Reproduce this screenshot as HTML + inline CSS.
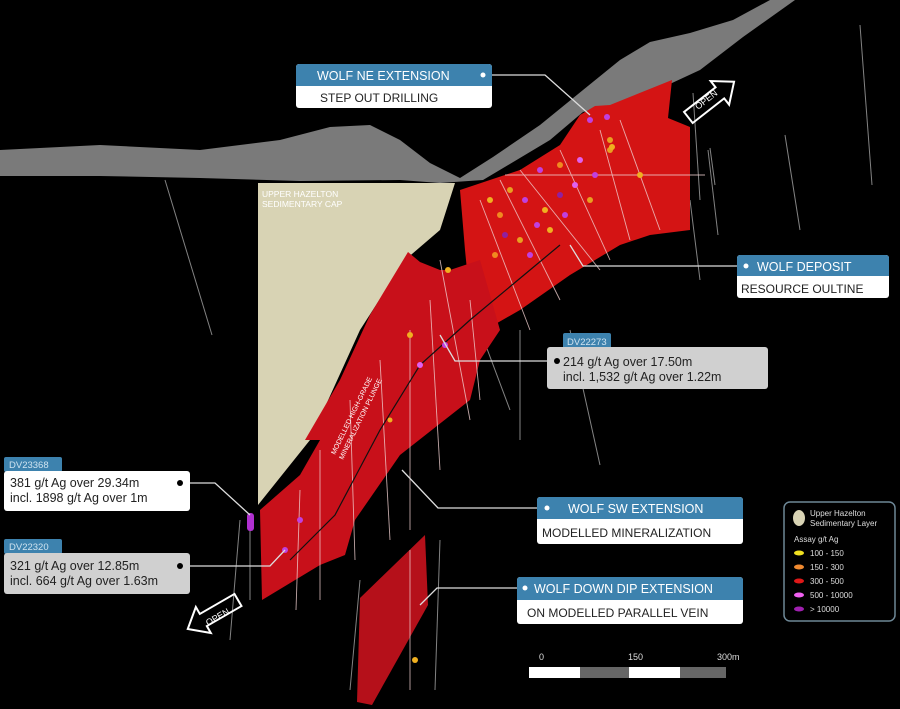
<!DOCTYPE html>
<html><head><meta charset="utf-8"><style>
html,body{margin:0;padding:0;background:#000;}
svg{display:block;font-family:"Liberation Sans",sans-serif;}
</style></head><body>
<svg width="900" height="709" viewBox="0 0 900 709" xmlns="http://www.w3.org/2000/svg">
<rect width="900" height="709" fill="#000"/>
<!-- background drill lines -->
<g stroke="#bbb" stroke-width="1" opacity="0.7">
<line x1="165" y1="180" x2="212" y2="335"/>
<line x1="860" y1="25" x2="872" y2="185"/>
<line x1="785" y1="135" x2="800" y2="230"/>
<line x1="708" y1="150" x2="718" y2="235"/>
<line x1="690" y1="200" x2="700" y2="280"/>
<line x1="693" y1="93" x2="700" y2="200"/>
<line x1="710" y1="148" x2="715" y2="185"/>
<line x1="570" y1="330" x2="600" y2="465"/>
<line x1="520" y1="330" x2="520" y2="440"/>
<line x1="480" y1="330" x2="510" y2="410"/>
<line x1="240" y1="520" x2="230" y2="640"/>
<line x1="250" y1="520" x2="250" y2="600"/>
<line x1="440" y1="540" x2="435" y2="690"/>
<line x1="360" y1="580" x2="350" y2="690"/>
</g>
<!-- terrain -->
<polygon fill="#7a7a7a" points="0,150 100,145 200,150 280,140 330,127 370,125 400,140 430,163 460,178 493,157 540,125 583,90 620,60 650,42 690,33 733,20 770,0 795,0 743,37 700,70 672,83 637,100 583,112 550,140 483,180 440,183 400,180 300,181 200,178 100,176 0,176"/>
<!-- tan cap -->
<polygon fill="#d8d3b4" points="258,183 455,183 440,230 405,260 360,330 310,440 258,505"/>
<text x="262" y="197" font-size="8.5" fill="#fff">UPPER HAZELTON</text>
<text x="262" y="207" font-size="8.5" fill="#fff">SEDIMENTARY CAP</text>
<!-- red deposit -->
<polygon fill="#d41414" points="460,190 520,170 560,145 580,115 595,106 610,105 672,80 668,118 690,127 690,230 650,235 620,245 570,275 520,310 485,330 470,300 465,250"/>
<!-- SW band -->
<polygon fill="#c8101a" points="408,252 420,262 440,270 450,270 480,260 500,330 480,360 470,400 400,455 355,520 345,555 320,565 262,600 260,510 300,475 320,440 305,440 340,380 370,315 385,290"/>
<!-- parallel vein -->
<polygon fill="#b5101a" points="360,598 425,535 428,605 372,705 357,702"/>
<!-- drill holes in red -->
<g stroke="#f0d0d0" stroke-width="0.9" opacity="0.8">
<line x1="520" y1="170" x2="600" y2="270"/><line x1="560" y1="150" x2="610" y2="260"/>
<line x1="600" y1="130" x2="630" y2="240"/><line x1="620" y1="120" x2="660" y2="230"/>
<line x1="500" y1="180" x2="560" y2="300"/><line x1="480" y1="200" x2="530" y2="330"/>
<line x1="440" y1="260" x2="470" y2="420"/><line x1="430" y1="300" x2="440" y2="470"/>
<line x1="410" y1="330" x2="410" y2="530"/><line x1="380" y1="360" x2="390" y2="540"/>
<line x1="320" y1="450" x2="320" y2="600"/><line x1="300" y1="490" x2="296" y2="610"/>
<line x1="350" y1="400" x2="355" y2="560"/><line x1="470" y1="300" x2="480" y2="400"/>
<line x1="410" y1="550" x2="410" y2="690"/>
<line x1="505" y1="175" x2="705" y2="175"/>
</g>
<!-- plunge line -->
<polyline fill="none" stroke="#111" stroke-width="1.2" points="290,560 335,515 380,430 420,365 470,320 530,270 560,245"/>
<text x="0" y="0" font-size="7" fill="#fff" transform="translate(335,455) rotate(-64)">MODELLED HIGH-GRADE</text>
<text x="0" y="0" font-size="7" fill="#fff" transform="translate(343,460) rotate(-64)">MINERALIZATION PLUNGE</text>
<!-- assay dots -->
<g>
<circle cx="540" cy="170" r="3" fill="#c040e0"/><circle cx="560" cy="165" r="3" fill="#f08a20"/><circle cx="580" cy="160" r="3" fill="#e060f0"/>
<circle cx="595" cy="175" r="3" fill="#c040e0"/><circle cx="510" cy="190" r="3" fill="#e8a020"/><circle cx="525" cy="200" r="3" fill="#c040e0"/>
<circle cx="545" cy="210" r="3" fill="#f0b020"/><circle cx="500" cy="215" r="3" fill="#f08a20"/><circle cx="560" cy="195" r="3" fill="#9020a0"/>
<circle cx="575" cy="185" r="3" fill="#e060f0"/><circle cx="610" cy="150" r="3" fill="#e8a020"/><circle cx="590" cy="120" r="3" fill="#c040e0"/>
<circle cx="537" cy="225" r="3" fill="#c040e0"/><circle cx="520" cy="240" r="3" fill="#e8a020"/><circle cx="505" cy="235" r="3" fill="#9020a0"/>
<circle cx="550" cy="230" r="3" fill="#f0b020"/><circle cx="565" cy="215" r="3" fill="#c040e0"/><circle cx="590" cy="200" r="3" fill="#e8a020"/>
<circle cx="640" cy="175" r="3" fill="#f0b020"/><circle cx="495" cy="255" r="3" fill="#f08a20"/><circle cx="530" cy="255" r="3" fill="#c040e0"/>
<circle cx="610" cy="140" r="3" fill="#e8a020"/><circle cx="490" cy="200" r="3" fill="#f0b020"/>
<circle cx="607" cy="117" r="3" fill="#c040e0"/><circle cx="612" cy="147" r="3" fill="#f0b020"/>
<circle cx="448" cy="270" r="3" fill="#f0b020"/><circle cx="445" cy="345" r="3" fill="#c040e0"/><circle cx="420" cy="365" r="3" fill="#e060f0"/>
<circle cx="410" cy="335" r="3" fill="#f0b020"/><circle cx="300" cy="520" r="3" fill="#c040e0"/><circle cx="285" cy="550" r="3" fill="#c040e0"/>
<rect x="247" y="513" width="7" height="18" rx="3" fill="#b030d0"/>
<circle cx="415" cy="660" r="3" fill="#f0b020"/><circle cx="390" cy="420" r="2.5" fill="#f0b020"/>
</g>
<!-- connectors -->
<g stroke="#ddd" stroke-width="1.3" fill="none">
<polyline points="483,75 545,75 590,115"/>
<polyline points="745,266 583,266 570,245"/>
<polyline points="557,361 455,361 440,335"/>
<polyline points="547,508 438,508 402,470"/>
<polyline points="525,588 437,588 420,605"/>
<polyline points="180,483 215,483 250,515"/>
<polyline points="180,566 270,566 285,550"/>
</g>
<!-- WOLF NE -->
<rect x="296" y="64" width="196" height="44" rx="3" fill="#fff"/>
<path d="M299,64 h190 a3,3 0 0 1 3,3 v19 h-196 v-19 a3,3 0 0 1 3,-3z" fill="#3d82ae"/>
<text x="317" y="80" font-size="12.5" fill="#fff">WOLF NE EXTENSION</text>
<circle cx="483" cy="75" r="2.5" fill="#fff"/>
<text x="320" y="102" font-size="12" fill="#222">STEP OUT DRILLING</text>
<!-- WOLF DEPOSIT -->
<rect x="737" y="255" width="152" height="43" rx="3" fill="#fff"/>
<path d="M740,255 h146 a3,3 0 0 1 3,3 v18 h-152 v-18 a3,3 0 0 1 3,-3z" fill="#3d82ae"/>
<circle cx="746" cy="266" r="2.5" fill="#fff"/>
<text x="757" y="271" font-size="12.5" fill="#fff">WOLF DEPOSIT</text>
<text x="741" y="293" font-size="12" fill="#222">RESOURCE OULTINE</text>
<!-- DV22273 -->
<rect x="563" y="333" width="48" height="16" rx="2" fill="#3d82ae"/>
<text x="567" y="345" font-size="9.5" fill="#cfe3f0">DV22273</text>
<rect x="547" y="347" width="221" height="42" rx="3" fill="#d0d0d0"/>
<circle cx="557" cy="361" r="3" fill="#000"/>
<text x="563" y="366" font-size="12.5" fill="#222">214 g/t Ag over 17.50m</text>
<text x="563" y="381" font-size="12.5" fill="#222">incl. 1,532 g/t Ag over 1.22m</text>
<!-- WOLF SW -->
<rect x="537" y="497" width="206" height="47" rx="3" fill="#fff"/>
<path d="M540,497 h200 a3,3 0 0 1 3,3 v19 h-206 v-19 a3,3 0 0 1 3,-3z" fill="#3d82ae"/>
<circle cx="547" cy="508" r="2.5" fill="#fff"/>
<text x="568" y="513" font-size="12.5" fill="#fff">WOLF SW EXTENSION</text>
<text x="542" y="537" font-size="12" fill="#222">MODELLED MINERALIZATION</text>
<!-- WOLF DOWN DIP -->
<rect x="517" y="577" width="226" height="47" rx="3" fill="#fff"/>
<path d="M520,577 h220 a3,3 0 0 1 3,3 v20 h-226 v-20 a3,3 0 0 1 3,-3z" fill="#3d82ae"/>
<circle cx="525" cy="588" r="2.5" fill="#fff"/>
<text x="534" y="593" font-size="12.5" fill="#fff">WOLF DOWN DIP EXTENSION</text>
<text x="527" y="617" font-size="12" fill="#222">ON MODELLED PARALLEL VEIN</text>
<!-- DV23368 -->
<rect x="4" y="457" width="58" height="15" rx="2" fill="#3d82ae"/>
<text x="9" y="468" font-size="9.5" fill="#cfe3f0">DV23368</text>
<rect x="4" y="471" width="186" height="40" rx="3" fill="#fff"/>
<text x="10" y="487" font-size="12.5" fill="#222">381 g/t Ag over 29.34m</text>
<text x="10" y="502" font-size="12.5" fill="#222">incl. 1898 g/t Ag over 1m</text>
<circle cx="180" cy="483" r="3" fill="#000"/>
<!-- DV22320 -->
<rect x="4" y="539" width="58" height="15" rx="2" fill="#3d82ae"/>
<text x="9" y="550" font-size="9.5" fill="#cfe3f0">DV22320</text>
<rect x="4" y="553" width="186" height="41" rx="3" fill="#d0d0d0"/>
<text x="10" y="570" font-size="12.5" fill="#222">321 g/t Ag over 12.85m</text>
<text x="10" y="585" font-size="12.5" fill="#222">incl. 664 g/t Ag over 1.63m</text>
<circle cx="180" cy="566" r="3" fill="#000"/>
<!-- OPEN arrows -->
<g transform="translate(712,99) rotate(-38)" fill="none" stroke="#fff" stroke-width="2">
<polygon points="-30,-7 10,-7 10,-15 28,0 10,15 10,7 -30,7"/>
</g>
<text font-size="9" fill="#fff" transform="translate(698,110) rotate(-38)">OPEN</text>
<g transform="translate(212,615) rotate(150)" fill="none" stroke="#fff" stroke-width="2">
<polygon points="-30,-7 10,-7 10,-15 28,0 10,15 10,7 -30,7"/>
</g>
<text font-size="9" fill="#fff" transform="translate(208,626) rotate(-30)">OPEN</text>
<!-- scale bar -->
<text x="539" y="660" font-size="9" fill="#ddd">0</text>
<text x="628" y="660" font-size="9" fill="#ddd">150</text>
<text x="717" y="660" font-size="9" fill="#ddd">300m</text>
<rect x="529" y="667" width="51" height="11" fill="#fff"/>
<rect x="580" y="667" width="49" height="11" fill="#666"/>
<rect x="629" y="667" width="51" height="11" fill="#fff"/>
<rect x="680" y="667" width="46" height="11" fill="#666"/>
<!-- legend -->
<rect x="784" y="502" width="111" height="119" rx="6" fill="#000" stroke="#6d8796" stroke-width="1.5"/>
<ellipse cx="799" cy="518" rx="6" ry="8" fill="#d8d3b4"/>
<text x="810" y="516" font-size="8" fill="#ddd">Upper Hazelton</text>
<text x="810" y="526" font-size="8" fill="#ddd">Sedimentary Layer</text>
<text x="794" y="542" font-size="8" fill="#ddd">Assay g/t Ag</text>
<ellipse cx="799" cy="553" rx="5" ry="2.5" fill="#f0e020"/><text x="810" y="556" font-size="8" fill="#ddd">100 - 150</text>
<ellipse cx="799" cy="567" rx="5" ry="2.5" fill="#f08a30"/><text x="810" y="570" font-size="8" fill="#ddd">150 - 300</text>
<ellipse cx="799" cy="581" rx="5" ry="2.5" fill="#e01818"/><text x="810" y="584" font-size="8" fill="#ddd">300 - 500</text>
<ellipse cx="799" cy="595" rx="5" ry="2.5" fill="#f060f0"/><text x="810" y="598" font-size="8" fill="#ddd">500 - 10000</text>
<ellipse cx="799" cy="609" rx="5" ry="2.5" fill="#a020b0"/><text x="810" y="612" font-size="8" fill="#ddd">&gt; 10000</text>
</svg>
</body></html>
